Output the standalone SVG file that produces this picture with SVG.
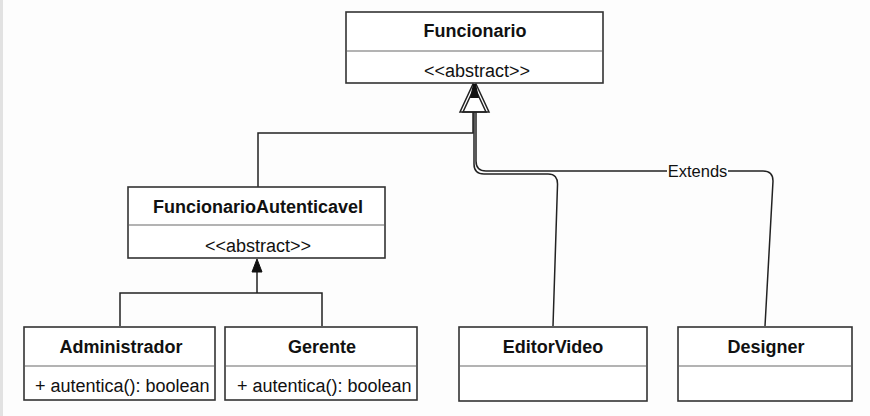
<svg xmlns="http://www.w3.org/2000/svg" width="870" height="416" viewBox="0 0 870 416">
<style>
.box{fill:#ffffff;stroke:#333333;stroke-width:1.6}
.div{stroke:#9a9a9a;stroke-width:1.4}
.t{font-family:"Liberation Sans",Arial,sans-serif;font-size:18px;font-weight:bold;fill:#111;text-anchor:middle}
.s{font-family:"Liberation Sans",Arial,sans-serif;font-size:18px;fill:#111;text-anchor:middle}
.m{font-family:"Liberation Sans",Arial,sans-serif;font-size:18px;fill:#111}
.e{fill:none;stroke:#222222;stroke-width:1.5}
</style>
<rect x="0" y="0" width="870" height="416" fill="#fdfdfd"/>
<rect x="0" y="0" width="3" height="416" fill="#e2e2e2"/>
<g id="connectors">
<path class="e" d="M258 187 V133 H473 V112"/>
<path class="e" d="M553 326 L557.5 185 Q558 174 548 174 H484 Q474 174 474 164 V112"/>
<path class="e" d="M765 326 L773 181 Q773 171 763 171 H486 Q476 171 476 161 V112"/>
<path class="e" d="M257 272 V293 M120 326 V293 H322 V326"/>
<polygon points="257,259 262,272 252,272" fill="#111" stroke="#111" stroke-width="1"/>
<polygon points="473,84 486,112 460,112" fill="#fff" stroke="#222" stroke-width="1.5"/>
<polygon points="476,84 489,112 463,112" fill="none" stroke="#222" stroke-width="1.5"/>
<polygon points="473,84 476,84 479,98 470,98" fill="#111"/>
<rect x="667" y="161" width="61" height="19" fill="#fdfdfd"/>
<text x="697.5" y="177" text-anchor="middle" font-family="'Liberation Sans',Arial,sans-serif" font-size="16.5" fill="#111">Extends</text>
</g>
<g id="Funcionario">
<rect class="box" x="346" y="12" width="257" height="71"/>
<line class="div" x1="347" y1="51" x2="602" y2="51"/>
<text class="t" x="475" y="37">Funcionario</text>
<text class="s" x="477" y="77">&lt;&lt;abstract&gt;&gt;</text>
</g>
<g id="FuncionarioAutenticavel">
<rect class="box" x="128" y="187" width="257" height="71"/>
<line class="div" x1="129" y1="225" x2="384" y2="225"/>
<text class="t" x="258" y="213">FuncionarioAutenticavel</text>
<text class="s" x="258" y="252">&lt;&lt;abstract&gt;&gt;</text>
</g>
<g id="Administrador">
<rect class="box" x="24" y="327" width="191" height="73"/>
<line class="div" x1="25" y1="366" x2="214" y2="366"/>
<text class="t" x="121" y="353">Administrador</text>
<text class="m" x="35" y="392">+ autentica(): boolean</text>
</g>
<g id="Gerente">
<rect class="box" x="225" y="327" width="192" height="73"/>
<line class="div" x1="226" y1="366" x2="416" y2="366"/>
<text class="t" x="322" y="353">Gerente</text>
<text class="m" x="237" y="392">+ autentica(): boolean</text>
</g>
<g id="EditorVideo">
<rect class="box" x="459" y="327" width="188" height="74"/>
<line class="div" x1="460" y1="366" x2="646" y2="366"/>
<text class="t" x="553" y="353">EditorVideo</text>
</g>
<g id="Designer">
<rect class="box" x="678" y="327" width="174" height="74"/>
<line class="div" x1="679" y1="366" x2="851" y2="366"/>
<text class="t" x="766" y="353">Designer</text>
</g>
</svg>
